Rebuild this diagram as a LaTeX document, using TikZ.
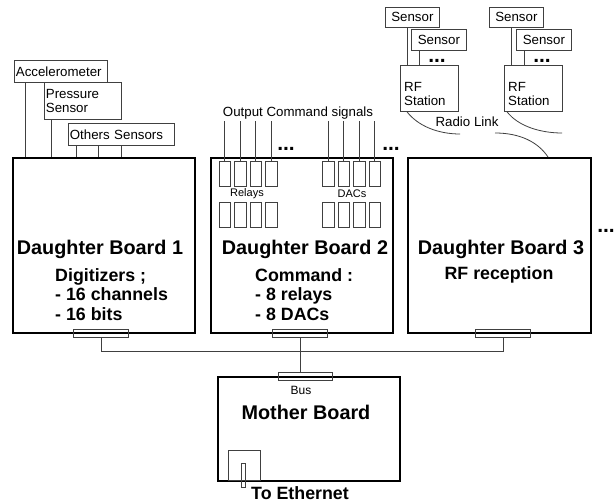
\documentclass[tikz,border=0pt]{standalone}
\usepackage{fontspec}
\setmainfont{Liberation Sans}
\newcommand\fsmall{\fontsize{13.3}{14}\selectfont}
\newcommand\ftiny{\fontsize{11}{12}\selectfont}
\newcommand\fbus{\fontsize{12}{13}\selectfont}
\newcommand\fbig{\fontsize{19.8}{22}\selectfont\bfseries}
\newcommand\fmid{\fontsize{17.8}{19.6}\selectfont\bfseries}
\newcommand\fdots{\fontsize{21}{21}\selectfont\bfseries}
\begin{document}
\begin{tikzpicture}[x=1pt,y=-1pt,
  board/.style={draw=black, line width=1.8pt, rectangle, inner sep=0pt, anchor=north west},
  thinbox/.style={draw=black!75, line width=0.8pt, rectangle, inner sep=0pt, anchor=north west},
  sbox/.style={thinbox, inner sep=1.5pt, align=left, font=\fsmall},
  wire/.style={draw=black!75, line width=0.8pt},
  lbl/.style={inner sep=0pt},
  dotsnode/.style={inner sep=0pt, font=\fdots}]
\useasboundingbox (0,0) rectangle (615,503);

% daughter boards
\node[board, minimum width=182pt, minimum height=175pt] (db1) at (12,157) {};
\node[board, minimum width=182pt, minimum height=175pt] (db2) at (210,157) {};
\node[board, minimum width=183pt, minimum height=175pt] (db3) at (407,157) {};
% mother board
\node[board, minimum width=182pt, minimum height=104pt] (mb) at (217,376) {};

% board texts
\node[lbl, font=\fbig] (db1t) at (100,249) {Daughter Board 1};
\node[lbl, font=\fmid, anchor=west, align=left] (db1s) at (55,294.5) {Digitizers ;\\- 16 channels\\- 16 bits};
\node[lbl, font=\fbig] (db2t) at (305,249) {Daughter Board 2};
\node[lbl, font=\fmid, anchor=west, align=left] (db2s) at (255,294.5) {Command :\\- 8 relays\\- 8 DACs};
\node[lbl, font=\fbig] (db3t) at (501,249) {Daughter Board 3};
\node[lbl, font=\fmid] (db3s) at (499,275) {RF reception};
\node[dotsnode] (dots3) at (606,231) {...};

% left sensors
\node[sbox, text width=90pt, minimum height=22pt] (acc) at (14,60) {Accelerometer};
\node[sbox, text width=74pt, minimum height=37pt] (pres) at (44,82) {Pressure\\Sensor};
\node[sbox, text width=103pt, minimum height=22pt] (oth) at (68,123) {Others Sensors};
\draw[wire] (25,0 |- acc.south) -- (25,0 |- db1.north);
\draw[wire] (51,0 |- pres.south) -- (51,0 |- db1.north);
\foreach \x in {76,98,121} {
  \draw[wire] (\x,0 |- oth.south) -- (\x,0 |- db1.north);
}

% command signals
\node[lbl, font=\fsmall] (outtxt) at (298,113) {Output Command signals};
\coordinate (sigtop) at (0,121);
\foreach \i/\x in {1/218.5,2/234,3/249.5,4/265} {
  \node[thinbox, minimum width=11.5pt, minimum height=25pt] (r\i) at (\x,161) {};
  \node[thinbox, minimum width=11.5pt, minimum height=25pt] (rl\i) at (\x,202) {};
  \draw[wire] (r\i.north) -- (r\i.north |- sigtop);
}
\foreach \i/\x in {1/322,2/337.5,3/353,4/368.5} {
  \node[thinbox, minimum width=11.5pt, minimum height=25pt] (d\i) at (\x,161) {};
  \node[thinbox, minimum width=11.5pt, minimum height=25pt] (dl\i) at (\x,202) {};
  \draw[wire] (d\i.north) -- (d\i.north |- sigtop);
}
\node[lbl, font=\ftiny] (relt) at (247,193.5) {Relays};
\node[lbl, font=\ftiny] (dact) at (352,193.5) {DACs};
\node[dotsnode] (dots1) at (286,149) {...};
\node[dotsnode] (dots2) at (391,149) {...};

% RF stations
\node[sbox, text width=51pt, minimum height=20pt, align=center] (s1a) at (385,7) {Sensor};
\node[sbox, text width=52pt, minimum height=21pt, align=center] (s1b) at (411,29) {Sensor};
\node[thinbox, minimum width=58pt, minimum height=46pt] (rf1) at (400,65) {};
\node[lbl, font=\fsmall, anchor=west, align=left] (rf1t) at (404,94) {RF\\Station};
\draw[wire] (407,0 |- s1a.south) -- (407,0 |- rf1.north);
\draw[wire] (419,0 |- s1b.south) -- (419,0 |- rf1.north);
\node[dotsnode] (dots4) at (437,60.5) {...};

\node[sbox, text width=51pt, minimum height=20pt, align=center] (s2a) at (489,7) {Sensor};
\node[sbox, text width=52pt, minimum height=21pt, align=center] (s2b) at (516,29) {Sensor};
\node[thinbox, minimum width=58pt, minimum height=46pt] (rf2) at (504,65) {};
\node[lbl, font=\fsmall, anchor=west, align=left] (rf2t) at (508,94) {RF\\Station};
\draw[wire] (511,0 |- s2a.south) -- (511,0 |- rf2.north);
\draw[wire] (524,0 |- s2b.south) -- (524,0 |- rf2.north);
\node[dotsnode] (dots5) at (542,60.5) {...};

% radio link
\node[lbl, font=\fsmall] (radio) at (467,122) {Radio Link};
\coordinate (w1) at (460,134);
\coordinate (w2) at (562,133);
\coordinate (w3) at (495,133);
\draw[wire] ([xshift=7pt]rf1.south west) .. controls (418,126) and (438,134) .. (w1);
\draw[wire] ([xshift=3pt]rf2.south west) .. controls (518,126) and (540,133) .. (w2);
\draw[wire] (w3) .. controls (520,133) and (538,142) .. (548,0 |- db3.north);

% connectors and bus
\node[thinbox, minimum width=55pt, minimum height=8pt] (c1) at (73,329) {};
\node[thinbox, minimum width=55pt, minimum height=8pt] (c2) at (272,329) {};
\node[thinbox, minimum width=55pt, minimum height=8pt] (c3) at (475,329) {};
\node[thinbox, minimum width=54pt, minimum height=8pt] (cm) at (278,372) {};
\draw[wire] (c1.south) -- ++(0,14) -| (c3.south);
\draw[wire] (c2.south) -- (c2.south |- cm.north);
\node[lbl, font=\fbus] (bust) at (301,390) {Bus};
\node[lbl, font=\fbig] (mbt) at (306,412) {Mother Board};

% ethernet
\node[thinbox, minimum width=32pt, minimum height=30pt] (eth) at (228,450) {};
\node[thinbox, minimum width=4pt, minimum height=24pt] (plug) at (241,463) {};
\node[lbl, font=\fmid] (etht) at (300,493) {To Ethernet};
\end{tikzpicture}
\end{document}
